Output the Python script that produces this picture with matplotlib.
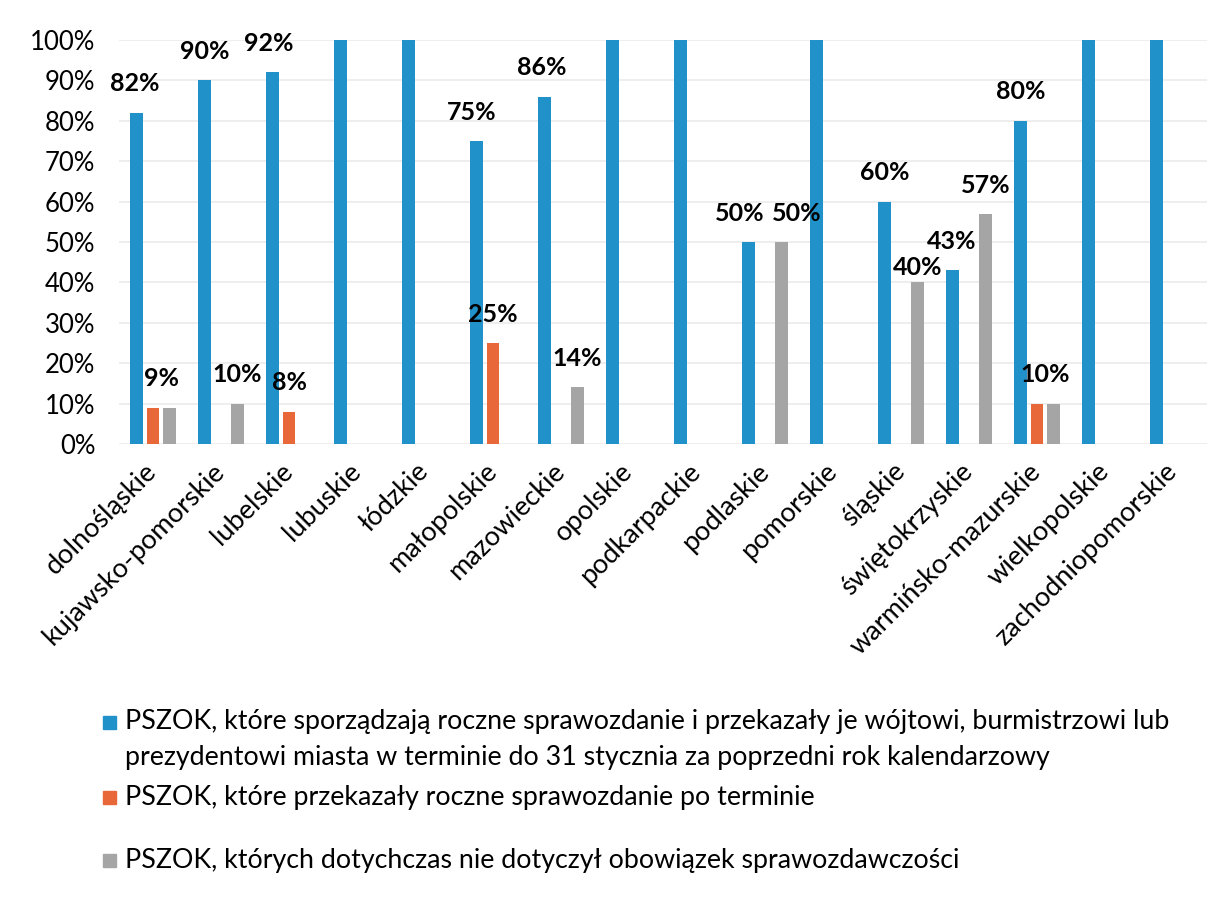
import matplotlib.pyplot as plt
import numpy as np
from matplotlib.patches import Rectangle

plt.rcParams['font.family'] = ['Lato', 'DejaVu Sans']

categories = ['dolnośląskie', 'kujawsko-pomorskie', 'lubelskie', 'lubuskie', 'łódzkie',
              'małopolskie', 'mazowieckie', 'opolskie', 'podkarpackie', 'podlaskie',
              'pomorskie', 'śląskie', 'świętokrzyskie', 'warmińsko-mazurskie',
              'wielkopolskie', 'zachodniopomorskie']

# udział PSZOK w województwie (0-1)
w_terminie = [0.82, 0.90, 0.92, 1.00, 1.00, 0.75, 0.86, 1.00, 1.00, 0.50, 1.00, 0.60, 0.43, 0.80, 1.00, 1.00]
po_terminie = [0.09, 0, 0.08, 0, 0, 0.25, 0, 0, 0, 0, 0, 0, 0, 0.10, 0, 0]
nie_dotyczy = [0.09, 0.10, 0, 0, 0, 0, 0.14, 0, 0, 0.50, 0, 0.40, 0.57, 0.10, 0, 0]

# opisy serii, każda linia osobno
series_labels = [
    ['PSZOK, które sporządzają roczne sprawozdanie i przekazały je wójtowi, burmistrzowi lub',
     'prezydentowi miasta w terminie do 31 stycznia za poprzedni rok kalendarzowy'],
    ['PSZOK, które przekazały roczne sprawozdanie po terminie'],
    ['PSZOK, których dotychczas nie dotyczył obowiązek sprawozdawczości'],
]
colors = ['#2191C9', '#E8683A', '#A5A5A5']

# etykiety wartości: (seria, województwo, przesunięcie x w px, wysokość nad słupkiem w px)
value_labels = [
    (0, 0, -2, 29), (0, 1, 0, 29), (0, 2, -4, 29), (0, 5, -5, 29), (0, 6, -3, 29),
    (0, 9, -9, 29), (0, 11, 0, 29), (0, 12, -1, 29), (0, 13, 0, 29),
    (1, 0, 8, 29), (1, 2, 0, 29), (1, 5, 0, 29), (1, 13, 8, 29),
    (2, 1, 0, 29), (2, 6, 0, 29), (2, 9, 15, 29), (2, 11, 0, 15), (2, 12, 0, 28),
]

W, H = 1227, 922
fig = plt.figure(figsize=(W / 100, H / 100), dpi=100)
ax = fig.add_axes([0.097, 0.5184, 0.8867, 0.4382])

series = [w_terminie, po_terminie, nie_dotyczy]
x = np.arange(len(categories))
step = 0.24
width = 0.19
for i, vals in enumerate(series):
    ax.bar(x + (i - 1) * step, vals, width=width, color=colors[i], zorder=2)

for s, c, dx, dy in value_labels:
    v = series[s][c]
    ax.annotate(f'{round(v * 100)}%', xy=(x[c] + (s - 1) * step, v),
                xytext=(dx, dy), textcoords='offset pixels',
                ha='center', va='center', fontsize=18, fontweight='bold',
                color='black', annotation_clip=False)

ax.set_xlim(-0.5, len(categories) - 0.5)
ax.set_ylim(0, 1.0)
yt = np.arange(0, 1.01, 0.1)
ax.set_yticks(yt)
ax.set_yticklabels([f'{int(round(t * 100))}%' for t in yt])
ax.grid(axis='y', color='#EBEBEB', linewidth=1.2, zorder=0)
for sp in ax.spines.values():
    sp.set_visible(False)

ax.set_xticks(x)
ax.set_xticklabels(categories, rotation=45, ha='right', va='center',
                   rotation_mode='anchor')
ax.tick_params(axis='x', length=0, pad=17, labelsize=19.5)
ax.tick_params(axis='y', length=0, pad=17, labelsize=18.5)

# legenda pod wykresem
leg_y = [[722, 757], [797], [860]]
for i, lines in enumerate(series_labels):
    yf = 1 - leg_y[i][0] / H
    fig.patches.append(Rectangle((103 / W, yf - 7 / H), 13 / W, 13 / H,
                                 transform=fig.transFigure, color=colors[i]))
    for line, ypx in zip(lines, leg_y[i]):
        fig.text(125 / W, 1 - ypx / H, line, ha='left', va='center',
                 fontsize=19.3, transform=fig.transFigure)

fig.savefig('out.png', dpi=100)
